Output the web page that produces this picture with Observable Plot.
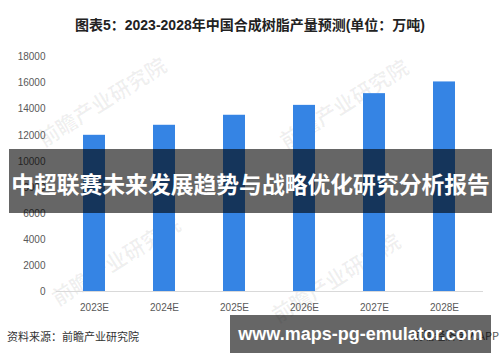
<!DOCTYPE html>
<html>
<head>
<meta charset="utf-8">
<script src="https://cdn.jsdelivr.net/npm/d3@7"></script>
<script src="https://cdn.jsdelivr.net/npm/@observablehq/plot@0.6"></script>
<style>
  html, body { margin: 0; padding: 0; background: #fff; }
  #wrap { position: relative; width: 500px; height: 362px; overflow: hidden; background: #fff;
          font-family: "Liberation Sans", "Noto Sans CJK SC", sans-serif; }
  #title { height: 42px; box-sizing: border-box; padding-top: 15px; text-align: center;
           font-size: 14px; line-height: 20px; font-weight: bold; color: #222; }
  #chart { position: relative; z-index: 2; height: 270px; }
  #chart svg { background: transparent; }
  .wm { position: absolute; z-index: 1; font-family: "Noto Sans CJK SC", sans-serif; font-weight: bold;
        font-size: 21px; color: rgba(0,0,0,0.06); transform: rotate(-32deg); white-space: nowrap;
        transform-origin: center center; }
  #banner { position: absolute; z-index: 5; left: 9px; top: 149px; width: 483px; height: 64px;
            background: rgba(0,0,0,0.6); color: #fff; text-align: center; font-weight: bold;
            font-family: "Noto Sans CJK SC", sans-serif; font-size: 22.8px; line-height: 64px;
            box-sizing: border-box; padding-top: 3px; white-space: nowrap; }
  #source { position: absolute; z-index: 3; left: 7px; top: 328px; font-size: 11px; line-height: 16px;
            color: #333; font-family: "Noto Sans CJK SC", sans-serif; }
  #app { position: absolute; z-index: 3; right: 1px; top: 327px; font-size: 11px; line-height: 16px;
         color: #555; font-family: "Noto Sans CJK SC", sans-serif; }
  #site { position: absolute; z-index: 5; left: 230px; top: 315px; width: 261px; height: 38px;
          background: rgba(0,0,0,0.6); color: #fff; font-weight: bold; font-size: 18px;
          line-height: 38px; text-align: center; font-family: "Liberation Sans", sans-serif;
          box-sizing: border-box; padding-top: 0px; white-space: nowrap; }
</style>
</head>
<body>
<div id="wrap">
  <div id="title"></div>
  <div id="chart"></div>
  <div class="wm" style="left:28px; top:86px;">前瞻产业研究院</div>
  <div class="wm" style="left:270px; top:88px;">前瞻产业研究院</div>
  <div class="wm" style="left:42px; top:245px;">前瞻产业研究院</div>
  <div class="wm" style="left:262px; top:262px;">前瞻产业研究院</div>
  <div id="banner"></div>
  <div id="source"></div>
  <div id="app"></div>
  <div id="site"></div>
</div>
<script>
const titleText = "图表5：2023-2028年中国合成树脂产量预测(单位：万吨)";
const bannerText = "中超联赛未来发展趋势与战略优化研究分析报告";
const sourceText = "资料来源：前瞻产业研究院";
const appText = "前瞻经济学人APP";
const siteText = "www.maps-pg-emulator.com";

const years = ["2023E", "2024E", "2025E", "2026E", "2027E", "2028E"];
const output = [12000, 12770, 13540, 14300, 15200, 16100];
const yTicks = [0, 2000, 4000, 6000, 8000, 10000, 12000, 14000, 16000, 18000];

document.getElementById("title").textContent = titleText;
document.getElementById("banner").textContent = bannerText;
document.getElementById("source").textContent = sourceText;
document.getElementById("app").textContent = appText;
document.getElementById("site").textContent = siteText;

const data = years.map((y, i) => ({year: y, value: output[i]}));

const chart = Plot.plot({
  width: 500,
  height: 270,
  marginLeft: 56,
  marginRight: 17,
  marginTop: 14.7,
  marginBottom: 21,
  style: {fontFamily: "Liberation Sans, sans-serif", fontSize: "10px", background: "transparent", color: "#595959", overflow: "visible"},
  x: {domain: years, paddingInner: 0.683, paddingOuter: 0.35},
  y: {domain: [0, 18000]},
  marks: [
    Plot.ruleY([0], {stroke: "#d9d9d9", strokeWidth: 1.2}),
    Plot.barY(data, {x: "year", y: "value", fill: "#3584e4"}),
    Plot.axisY({ticks: yTicks, tickSize: 0, tickPadding: 11, tickFormat: d3.format("d"), label: null, fill: "#595959", fontSize: 10}),
    Plot.axisX({tickSize: 0, tickPadding: 12, label: null, fill: "#595959", fontSize: 10})
  ]
});
document.getElementById("chart").appendChild(chart);
</script>
</body>
</html>
